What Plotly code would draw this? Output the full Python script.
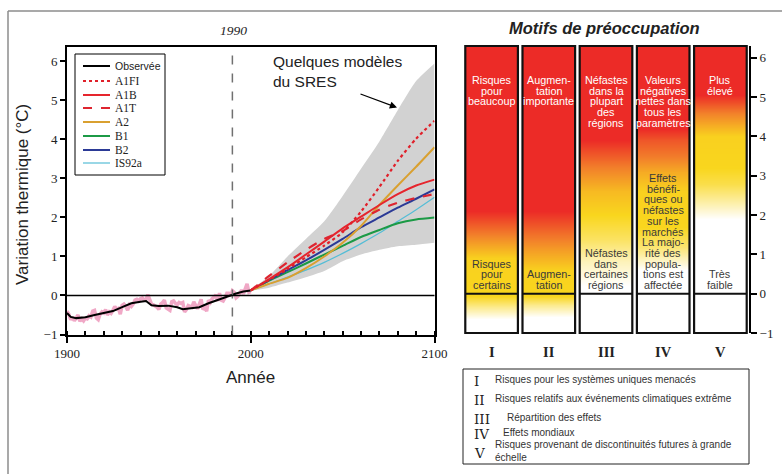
import plotly.graph_objects as go

W, H = 782, 474
def PX(x): return x / W
def PY(y): return 1 - y / H

# ---------------- data ----------------
obs_years = list(range(1900, 2001))
obs_annual = [
    -0.40, -0.48, -0.62, -0.55, -0.65, -0.58, -0.50, -0.66, -0.60, -0.65,
    -0.58, -0.60, -0.52, -0.55, -0.40, -0.38, -0.58, -0.62, -0.48, -0.42,
    -0.45, -0.36, -0.50, -0.42, -0.46, -0.38, -0.28, -0.35, -0.33, -0.48,
    -0.25, -0.22, -0.28, -0.38, -0.24, -0.28, -0.22, -0.12, -0.10, -0.14,
    -0.08, -0.06, -0.12, -0.10, 0.02, -0.10, -0.22, -0.24, -0.26, -0.30,
    -0.36, -0.22, -0.18, -0.12, -0.32, -0.34, -0.38, -0.16, -0.14, -0.20,
    -0.24, -0.18, -0.20, -0.18, -0.42, -0.36, -0.26, -0.28, -0.30, -0.16,
    -0.24, -0.34, -0.22, -0.10, -0.36, -0.32, -0.40, -0.12, -0.18, -0.08,
    -0.04, 0.02, -0.14, 0.06, -0.12, -0.14, -0.06, 0.06, 0.06, -0.02,
    0.12, 0.08, -0.06, -0.02, 0.06, 0.14, 0.04, 0.16, 0.30, 0.08,
    0.10]
smooth_years = [1900, 1902, 1905, 1910, 1915, 1920, 1925, 1930, 1935, 1940, 1943,
                1946, 1950, 1955, 1960, 1963, 1967, 1972, 1977, 1983, 1988, 1992,
                1996, 2000]
smooth_vals = [-0.45, -0.55, -0.58, -0.56, -0.50, -0.45, -0.40, -0.30, -0.20, -0.16,
               -0.14, -0.25, -0.27, -0.26, -0.30, -0.35, -0.32, -0.30, -0.20, -0.10,
               0.00, 0.05, 0.10, 0.13]

proj_years = [2000, 2010, 2020, 2030, 2040, 2050, 2060, 2070, 2080, 2090, 2100]
env_low  = [0.12, 0.20, 0.33, 0.47, 0.63, 0.88, 1.05, 1.17, 1.26, 1.30, 1.35]
env_high = [0.15, 0.50, 1.00, 1.45, 1.90, 2.55, 3.25, 3.95, 4.75, 5.50, 5.95]
A1FI  = [0.13, 0.40, 0.68, 0.98, 1.28, 1.62, 2.15, 2.78, 3.45, 4.02, 4.48]
A1B   = [0.13, 0.42, 0.72, 1.05, 1.38, 1.72, 2.02, 2.32, 2.60, 2.82, 2.97]
A1T   = [0.13, 0.50, 0.85, 1.17, 1.45, 1.65, 1.95, 2.20, 2.38, 2.50, 2.60]
A2    = [0.13, 0.30, 0.45, 0.70, 1.00, 1.35, 1.78, 2.32, 2.82, 3.30, 3.80]
B1    = [0.13, 0.38, 0.60, 0.82, 1.05, 1.27, 1.50, 1.68, 1.85, 1.95, 2.00]
B2    = [0.13, 0.40, 0.65, 0.90, 1.17, 1.45, 1.75, 2.00, 2.25, 2.48, 2.72]
IS92a = [0.13, 0.30, 0.47, 0.65, 0.85, 1.08, 1.33, 1.60, 1.90, 2.20, 2.52]

scen_names = ["A1FI", "A1B", "A1T", "A2", "B1", "B2", "IS92a"]
scen_values = [A1FI, A1B, A1T, A2, B1, B2, IS92a]
scen_colors = ["#E0202A", "#E6252D", "#DE2530", "#D9A030", "#1C9A46", "#2B3A96", "#55BDD6"]
scen_dash = ["dot", "solid", "dash", "solid", "solid", "solid", "solid"]
scen_width = [2.2, 2.0, 2.2, 2.0, 2.0, 2.0, 1.2]

roman = ["I", "II", "III", "IV", "V"]
top_text = [
    ["Risques", "pour", "beaucoup"],
    ["Augmen-", "tation", "importante"],
    ["Néfastes", "dans la", "plupart", "des", "régions"],
    ["Valeurs", "négatives", "nettes dans", "tous les", "paramètres"],
    ["Plus", "élevé"],
]
bottom_text = [
    ["Risques", "pour", "certains"],
    ["Augmen-", "tation"],
    ["Néfastes", "dans", "certaines", "régions"],
    ["Effets", "bénéfi-", "ques ou", "néfastes", "sur les", "marchés", "La majo-",
     "rité des", "popula-", "tions est", "affectée"],
    ["Très", "faible"],
]
# risk intensity (0 = none/white, 1 = red) against temperature change, per bar
grad_temp = [
    [-1.0, -0.65, -0.35, -0.05, 0.9, 1.3, 1.6, 2.1, 6.4],
    [-1.0, -0.6, -0.3, -0.05, 0.6, 1.1, 1.5, 2.1, 6.4],
    [-1.0, 0.2, 0.8, 1.4, 2.0, 2.6, 3.2, 3.9, 6.4],
    [-1.0, 0.6, 1.2, 1.7, 2.6, 3.1, 3.5, 3.9, 4.2, 6.4],
    [-1.0, 1.9, 2.3, 2.8, 3.2, 4.0, 4.3, 4.6, 4.9, 5.05, 6.4],
]
grad_level = [
    [0.0, 0.0, 0.2, 0.4, 0.42, 0.6, 0.75, 1.0, 1.0],
    [0.0, 0.0, 0.2, 0.4, 0.42, 0.6, 0.75, 1.0, 1.0],
    [0.0, 0.0, 0.12, 0.28, 0.4, 0.5, 0.7, 1.0, 1.0],
    [0.0, 0.0, 0.25, 0.4, 0.42, 0.55, 0.72, 0.85, 1.0, 1.0],
    [0.0, 0.0, 0.15, 0.32, 0.4, 0.42, 0.55, 0.7, 0.9, 1.0, 1.0],
]
key_text = [
    "Risques pour les systèmes uniques menacés",
    "Risques relatifs aux événements climatiques extrême",
    "Répartition des effets",
    "Effets mondiaux",
    "Risques provenant de discontinuités futures à grande<br>échelle",
]

# ---------------- figure ----------------
SANS = "Liberation Sans, Arial, sans-serif"
SERIF = "Liberation Serif, Times New Roman, serif"
WSERIF = "DejaVu Serif, serif"
CS = [[0, "#FFFFFF"], [0.4, "#F9D61E"], [0.7, "#F2812A"], [1.0, "#EC2B27"]]

fig = go.Figure()

# envelope
fig.add_trace(go.Scatter(x=proj_years, y=env_low, mode="lines",
                         line=dict(width=0, shape="spline", smoothing=0.6),
                         showlegend=False, hoverinfo="skip"))
fig.add_trace(go.Scatter(x=proj_years, y=env_high, mode="lines",
                         line=dict(width=0, shape="spline", smoothing=0.6),
                         fill="tonexty", fillcolor="#D2D2D2", showlegend=False,
                         hoverinfo="skip"))
# observed
fig.add_trace(go.Scatter(x=obs_years, y=obs_annual, mode="lines",
                         line=dict(color="#F0A8C6", width=3.5), showlegend=False))
fig.add_trace(go.Scatter(x=smooth_years, y=smooth_vals, mode="lines",
                         line=dict(color="black", width=2), showlegend=False))
# scenarios
order = [6, 4, 5, 3, 1, 2, 0]
for k in order:
    fig.add_trace(go.Scatter(x=proj_years, y=scen_values[k], mode="lines",
                             line=dict(color=scen_colors[k], dash=scen_dash[k],
                                       width=scen_width[k], shape="spline", smoothing=0.6),
                             name=scen_names[k], showlegend=False))

# risk bars as heatmaps
for i in range(5):
    fig.add_trace(go.Heatmap(
        x=[i + 0.04, i + 0.5, i + 0.96], y=grad_temp[i],
        z=[[v, v] for v in grad_level[i]],
        zsmooth="best", colorscale=CS, zmin=0, zmax=1, showscale=False,
        xaxis="x2", yaxis="y2", hoverinfo="skip"))

shapes = []
annotations = []

def note(text, x, y, xref="paper", yref="paper", xanchor="center", yanchor="middle", **kw):
    d = dict(text=text, x=x, y=y, xref=xref, yref=yref, xanchor=xanchor,
             yanchor=yanchor, showarrow=False)
    d.update(kw)
    annotations.append(d)

# left panel details
shapes.append(dict(type="line", xref="x", yref="y domain", x0=1990, x1=1990, y0=0, y1=1,
                   line=dict(color="#707070", width=1.5, dash="dash")))
shapes.append(dict(type="line", xref="x domain", yref="y", x0=0, x1=1, y0=0, y1=0,
                   line=dict(color="black", width=1.5)))

# bars borders & zero lines
for i in range(5):
    shapes.append(dict(type="rect", xref="x2", yref="y2 domain", x0=i + 0.04, x1=i + 0.96,
                       y0=0, y1=1, line=dict(color="#111", width=2.2)))
    shapes.append(dict(type="line", xref="x2", yref="y2", x0=i + 0.04, x1=i + 0.96,
                       y0=0, y1=0, line=dict(color="#111", width=2)))
    note("<b>" + roman[i] + "</b>", i + 0.5, PY(352), xref="x2",
         font=dict(family=SERIF, size=14.5, color="#222"))

# bar texts
LH = 10.7
for i in range(5):
    for k, t in enumerate(top_text[i]):
        note(t, i + 0.5, PY(80 + k * LH), xref="x2", borderpad=0,
             font=dict(family=SANS, size=10.8, color="white"))
    n = len(bottom_text[i])
    for k, t in enumerate(bottom_text[i]):
        note(t, i + 0.5, PY(285 - (n - 1 - k) * LH), xref="x2", borderpad=0,
             font=dict(family=SANS, size=10.8, color="#3A3A3A"))

# manual legend for left panel
shapes.append(dict(type="rect", xref="paper", yref="paper", x0=PX(75), x1=PX(165),
                   y0=PY(175), y1=PY(54), line=dict(color="black", width=1),
                   fillcolor="white", layer="above"))
leg_names = ["Observée"] + scen_names
leg_colors = ["black"] + scen_colors
leg_dash = ["solid"] + scen_dash
leg_width = [2] + scen_width
leg_y = [66, 81, 95, 108, 122, 136, 150, 163]
for k in range(8):
    shapes.append(dict(type="line", xref="paper", yref="paper", x0=PX(83), x1=PX(110),
                       y0=PY(leg_y[k]), y1=PY(leg_y[k]),
                       line=dict(color=leg_colors[k], width=leg_width[k], dash=leg_dash[k])))
    note(leg_names[k], PX(114), PY(leg_y[k]), xanchor="left", borderpad=0,
         font=dict(family=SANS if k == 0 else SERIF,
                   size=10.5 if k == 0 else 11.5, color="#222"))

# labels
note("Quelques modèles<br>du SRES", PX(271), PY(71.5), xanchor="left", align="left",
     font=dict(family=SANS, size=15.5, color="#222"))
annotations.append(dict(text="", xref="paper", yref="paper", x=PX(397), y=PY(107.5),
                        ax=-38, ay=-14, showarrow=True, arrowhead=2, arrowsize=1.2,
                        arrowwidth=1.2, arrowcolor="black"))
note("<i>1990</i>", PX(233), PY(31), font=dict(family=SERIF, size=13.5, color="#222"))
note("<b><i>Motifs de préoccupation</i></b>", PX(604), PY(28),
     font=dict(family=SANS, size=16.5, color="#222"))
note("Variation thermique (°C)", PX(22), PY(195), textangle=-90,
     font=dict(family=SANS, size=17, color="#222"))
note("Année", PX(251), PY(377), font=dict(family=SANS, size=17, color="#222"))

# key box
shapes.append(dict(type="rect", xref="paper", yref="paper", x0=PX(463), x1=PX(749),
                   y0=PY(464), y1=PY(369), line=dict(color="#222", width=1)))
key_y = [379, 398.5, 417, 432, 451]
key_x = [494, 494, 506, 502, 494]
for k in range(5):
    note(roman[k], PX(473), PY(key_y[k] + 1.5), xanchor="left", borderpad=0,
         font=dict(family=WSERIF, size=13.5, color="#222"))
    note(key_text[k], PX(key_x[k]), PY(key_y[k]), xanchor="left", align="left",
         borderpad=0, font=dict(family=SANS, size=10, color="#333"))

# outer frame
shapes.append(dict(type="line", xref="paper", yref="paper", x0=PX(8), x1=1, y0=PY(11),
                   y1=PY(11), line=dict(color="#8C8C8C", width=1.5)))
shapes.append(dict(type="line", xref="paper", yref="paper", x0=PX(8), x1=PX(8), y0=0,
                   y1=PY(11), line=dict(color="#8C8C8C", width=1.5)))

axis_font = dict(family=SERIF, size=13, color="#222")
fig.update_layout(
    width=W, height=H, margin=dict(l=0, r=0, t=0, b=0, autoexpand=False),
    paper_bgcolor="white", plot_bgcolor="white", showlegend=False,
    shapes=shapes, annotations=annotations,
    xaxis=dict(domain=[PX(67), PX(434.5)], range=[1900, 2100], automargin=False,
               tickvals=[1900, 2000, 2100], ticks="outside", ticklen=6, tickwidth=2,
               tickcolor="black", showline=True, linecolor="black", linewidth=2,
               mirror=True, showgrid=False, zeroline=False, tickfont=axis_font,
               minor=dict(dtick=10, ticks="inside", ticklen=4, tickwidth=1.5,
                          tickcolor="black", showgrid=False)),
    yaxis=dict(domain=[PY(334.5), PY(47)], range=[-1, 6.37], tickvals=list(range(-1, 7)),
               automargin=False,
               ticks="outside", ticklen=5, tickwidth=2, tickcolor="black",
               showline=True, linecolor="black", linewidth=2, mirror=True,
               showgrid=False, zeroline=False, tickfont=axis_font),
    xaxis2=dict(domain=[PX(463), PX(749)], range=[0, 5], visible=False, anchor="y2",
                automargin=False),
    yaxis2=dict(domain=[PY(333), PY(46)], range=[-1, 6.30], anchor="x2", side="right",
                automargin=False,
                tickvals=list(range(-1, 7)), ticks="outside", ticklen=6, tickwidth=2,
                tickcolor="black", showline=True, linecolor="black", linewidth=2,
                showgrid=False, zeroline=False, tickfont=axis_font),
)

fig.write_html("out.html")
